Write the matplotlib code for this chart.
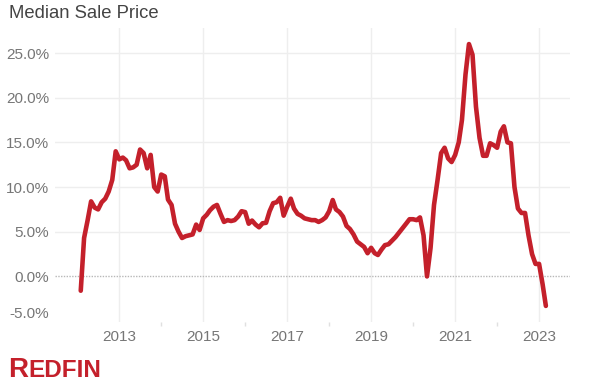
import matplotlib
matplotlib.use("Agg")
import matplotlib.pyplot as plt
from matplotlib.transforms import ScaledTranslation
import pandas as pd

plt.rcParams['font.family'] = ['Liberation Sans', 'DejaVu Sans']

# Year-over-year change in median sale price (%), monthly, Feb 2012 - Mar 2023
y2012 = [-1.6, 4.3, 6.3, 8.4, 7.7, 7.5, 8.3, 8.7, 9.5, 10.8, 14.0]
y2013 = [13.1, 13.3, 13.0, 12.1, 12.2, 12.5, 14.2, 13.8, 12.1, 13.6, 10.0, 9.5]
y2014 = [11.4, 11.2, 8.6, 8.0, 5.9, 5.0, 4.3, 4.5, 4.6, 4.7, 5.8, 5.2]
y2015 = [6.5, 6.9, 7.4, 7.8, 8.0, 7.0, 6.1, 6.3, 6.2, 6.3, 6.7, 7.3]
y2016 = [7.2, 5.9, 6.25, 5.8, 5.5, 5.95, 6.0, 7.3, 8.2, 8.3, 8.8, 6.8]
y2017 = [7.8, 8.7, 7.6, 7.0, 6.8, 6.5, 6.4, 6.3, 6.3, 6.1, 6.3, 6.6]
y2018 = [7.3, 8.55, 7.5, 7.2, 6.7, 5.65, 5.3, 4.7, 3.9, 3.6, 3.3, 2.6]
y2019 = [3.2, 2.6, 2.4, 3.0, 3.5, 3.6, 4.0, 4.4, 4.9, 5.4, 5.9, 6.4]
y2020 = [6.4, 6.3, 6.6, 4.6, 0.0, 3.2, 8.0, 10.8, 13.8, 14.4, 13.2, 12.8]
y2021 = [13.6, 15.0, 17.5, 22.6, 26.0, 24.8, 19.0, 15.5, 13.5, 13.5, 14.9, 14.7]
y2022 = [14.4, 16.2, 16.8, 15.0, 14.9, 10.0, 7.6, 7.1, 7.1, 4.6, 2.5, 1.4]
y2023 = [1.4, -0.9, -3.3]

values = (y2012 + y2013 + y2014 + y2015 + y2016 + y2017 + y2018 + y2019
          + y2020 + y2021 + y2022 + y2023)
dates = pd.date_range("2012-02-01", periods=len(values), freq="MS")

y_ticks = [-5, 0, 5, 10, 15, 20, 25]
x_years = [2013, 2015, 2017, 2019, 2021, 2023]
minor_years = [2014, 2016, 2018, 2020, 2022]

fig = plt.figure(figsize=(6.09, 3.89), dpi=100)
ax = fig.add_axes([55 / 609, 1 - 322 / 389, 515 / 609, 294 / 389])

# gridlines
for v in y_ticks[2:]:
    ax.axhline(v, color='#eeeeee', lw=1, zorder=0)
ax.axhline(0, color='#b8b8b8', lw=1, ls=(0, (1, 1)), zorder=1)
for yr in x_years:
    ax.axvline(pd.Timestamp(f"{yr}-01-01"), color='#eeeeee', lw=1, zorder=0)

ax.plot(dates, values, color='#c4202b', lw=3.3, solid_joinstyle='round',
        solid_capstyle='round', zorder=3)

ax.set_ylim(-5.1, 27.8)
ax.set_xlim(pd.Timestamp("2011-06-22"), pd.Timestamp("2023-09-27"))

ax.set_yticks(y_ticks)
ax.set_yticklabels([f"{v:.1f}%" for v in y_ticks])
ax.set_xticks([pd.Timestamp(f"{yr}-01-01") for yr in x_years])
ax.set_xticklabels([str(yr) for yr in x_years])
ax.set_xticks([pd.Timestamp(f"{yr}-01-01") for yr in minor_years], minor=True)

ax.tick_params(axis='y', length=0, pad=4, labelsize=11, labelcolor='#767676')
ax.tick_params(axis='x', which='major', length=0, pad=6, labelsize=11,
               labelcolor='#767676')
ax.tick_params(axis='x', which='minor', length=3, width=1, color='#e0e0e0',
               direction='out')

for s in ax.spines.values():
    s.set_visible(False)

# lowest label sits a bit higher, at the axis edge
lbl = ax.get_yticklabels()[0]
lbl.set_transform(lbl.get_transform() + ScaledTranslation(0, 9 / 100, fig.dpi_scale_trans))

fig.text(9 / 609, 1 - 18.5 / 389, "Median Sale Price", fontsize=13.3,
         color='#444444', va='baseline', ha='left')

# logo
fig.text(8 / 609, 1 - 377 / 389, "R", fontsize=20, fontweight='bold',
         color='#c4202b', va='baseline', ha='left')
fig.text(28 / 609, 1 - 377 / 389, "EDFIN", fontsize=17.5, fontweight='bold',
         color='#c4202b', va='baseline', ha='left')

fig.savefig("out.png", dpi=100)
